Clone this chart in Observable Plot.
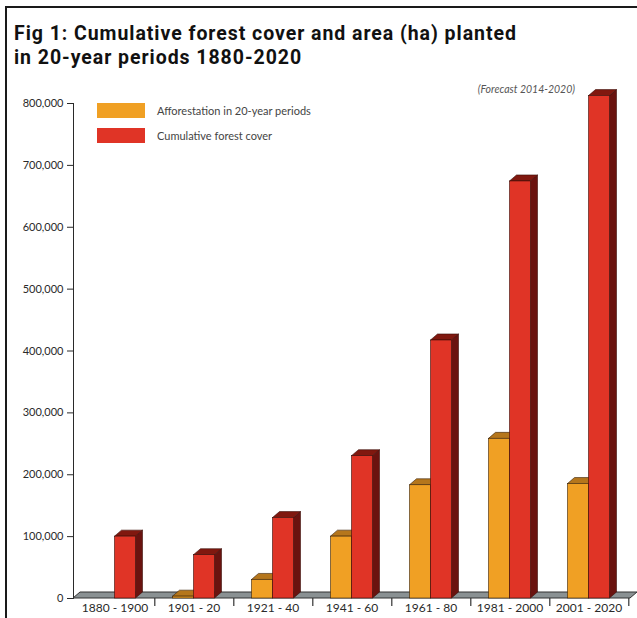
<!DOCTYPE html>
<html>
<head>
<meta charset="utf-8">
<script src="https://cdn.jsdelivr.net/npm/d3@7"></script>
<script src="https://cdn.jsdelivr.net/npm/@observablehq/plot@0.6"></script>
<style>
  body { margin: 0; background: #fff; }
  #wrap { position: relative; width: 637px; height: 618px; overflow: hidden; background: #fff; font-family: Lato, "Open Sans", sans-serif; }
  #frame { position: absolute; left: 5px; top: 6px; width: 720px; height: 720px; border-left: 2px solid #1a1a1a; border-top: 2px solid #1a1a1a; box-sizing: border-box; }
  #chart { position: absolute; left: 0; top: 0; }
  .tl { position: absolute; left: 14px; font-family: Roboto, "Open Sans", sans-serif; font-weight: 700; font-size: 19.5px; line-height: 23px; color: #111; white-space: nowrap; }
  .sw { position: absolute; left: 97px; width: 48px; height: 15px; }
  .lg { position: absolute; left: 157px; font-size: 11px; line-height: 15px; color: #444; white-space: nowrap; }
  #note { position: absolute; right: 62px; top: 83px; font-size: 10.5px; font-style: italic; color: #555; white-space: nowrap; }
  #chart g[aria-label^="x-axis"] text { font-size: 12px; }
</style>
</head>
<body>
<div id="wrap">
  <div id="chart"></div>
  <div id="frame"></div>
  <div id="title"></div>
  <div id="legend"></div>
  <div id="note"></div>
</div>
<script>
// ---- data ----
const periods = ["1880 - 1900", "1901 - 20", "1921 - 40", "1941 - 60", "1961 - 80", "1981 - 2000", "2001 - 2020"];
const afforestation = [null, 3000, 30000, 100000, 183000, 258000, 185000];
const cumulative = [100000, 70000, 130000, 230000, 417000, 674000, 812000];
const seriesNames = ["Afforestation in 20-year periods", "Cumulative forest cover"];
const yTicks = [0, 100000, 200000, 300000, 400000, 500000, 600000, 700000, 800000];
const titleLines = ["Fig 1: Cumulative forest cover and area (ha) planted", "in 20-year periods 1880-2020"];
const forecastNote = "(Forecast 2014-2020)";

// ---- styles ----
const colors = {
  front: ["#F0A024", "#E03426"],
  side: ["#8a540e", "#6a130f"],
  top: ["#b5761c", "#80180f"]
};
const D = 7, E = 6; // 3D depth (px)

const affRows = periods.map((p, i) => ({period: p, series: seriesNames[0], value: afforestation[i]})).filter(d => d.value != null);
const cumRows = periods.map((p, i) => ({period: p, series: seriesNames[1], value: cumulative[i]}));

const chart = Plot.plot({
  width: 637,
  height: 618,
  marginTop: 103,
  marginBottom: 20,
  marginLeft: 73,
  marginRight: 7,
  style: {fontFamily: "Lato, 'Open Sans', sans-serif", fontSize: "11px", color: "#2a2a2a", background: "transparent", overflow: "visible"},
  x: {domain: periods, paddingInner: 0.736, paddingOuter: 0.368, label: null, tickSize: 0, tickPadding: 5},
  y: {domain: [0, 800000], ticks: yTicks, tickFormat: d3.format(","), label: null, tickSize: 6, tickPadding: 4, line: true},
  marks: [
    Plot.ruleX(periods, {x: d => d, dx: 39.8, y1: 0, y2: -13000, stroke: "#333", strokeWidth: 1.2}),
    Plot.barY(affRows, {x: "period", y: "value", dx: -10.5, fill: colors.front[0], stroke: "#3a2208", strokeWidth: 0.6}),
    Plot.barY(cumRows, {x: "period", y: "value", dx: 10.5, fill: colors.front[1], stroke: "#3a0d08", strokeWidth: 0.6})
  ]
});
document.getElementById("chart").appendChild(chart);

const NS = "http://www.w3.org/2000/svg";
function poly(pts, fill, stroke) {
  const p = document.createElementNS(NS, "polygon");
  p.setAttribute("points", pts.map(q => q.join(",")).join(" "));
  p.setAttribute("fill", fill);
  p.setAttribute("stroke", stroke);
  p.setAttribute("stroke-width", "0.6");
  p.setAttribute("stroke-linejoin", "round");
  return p;
}
function add3D(g, k, stroke) {
  if (!g) return;
  g.querySelectorAll("rect").forEach(r => {
    const x = +r.getAttribute("x"), y = +r.getAttribute("y"), w = +r.getAttribute("width"), h = +r.getAttribute("height");
    const side = poly([[x + w, y + h], [x + w + D, y + h - E], [x + w + D, y - E], [x + w, y]], colors.side[k], stroke);
    const top = poly([[x, y], [x + D, y - E], [x + w + D, y - E], [x + w, y]], colors.top[k], stroke);
    r.parentNode.insertBefore(side, r);
    r.parentNode.insertBefore(top, r);
  });
}

const barGroups = Array.from(chart.querySelectorAll('g[aria-label="bar"]'));

// floor platform, from the scales
const ys = chart.scale("y"), xs = chart.scale("x");
const y0 = ys.range[0];
const xr = xs.range;
const floor = poly([[xr[0], y0], [xr[0] + D, y0 - E], [xr[1] + D, y0 - E], [xr[1], y0]], "#8a9193", "#333");
floor.setAttribute("stroke-width", "1");
if (barGroups[0]) barGroups[0].parentNode.insertBefore(floor, barGroups[0]);

add3D(barGroups[0], 0, "#3a2208");
add3D(barGroups[1], 1, "#3a0d08");

// title (two lines, fitted to the reference width with letter spacing)
const title = document.getElementById("title");
const tops = [22, 45.5];
const spans = titleLines.map((t, i) => {
  const s = document.createElement("div");
  s.className = "tl"; s.style.top = tops[i] + "px"; s.textContent = t;
  title.appendChild(s);
  return s;
});
const w1 = spans[0].getBoundingClientRect().width;
const ls = Math.max(0, Math.min(1, (503 - w1) / titleLines[0].length));
spans.forEach(s => s.style.letterSpacing = ls.toFixed(2) + "px");

// legend
const legend = document.getElementById("legend");
seriesNames.forEach((n, i) => {
  const top = 103 + i * 25;
  const sw = document.createElement("div");
  sw.className = "sw"; sw.style.top = top + "px"; sw.style.background = colors.front[i];
  legend.appendChild(sw);
  const lg = document.createElement("div");
  lg.className = "lg"; lg.style.top = top + "px"; lg.textContent = n;
  legend.appendChild(lg);
});
document.getElementById("note").textContent = forecastNote;
</script>
</body>
</html>
